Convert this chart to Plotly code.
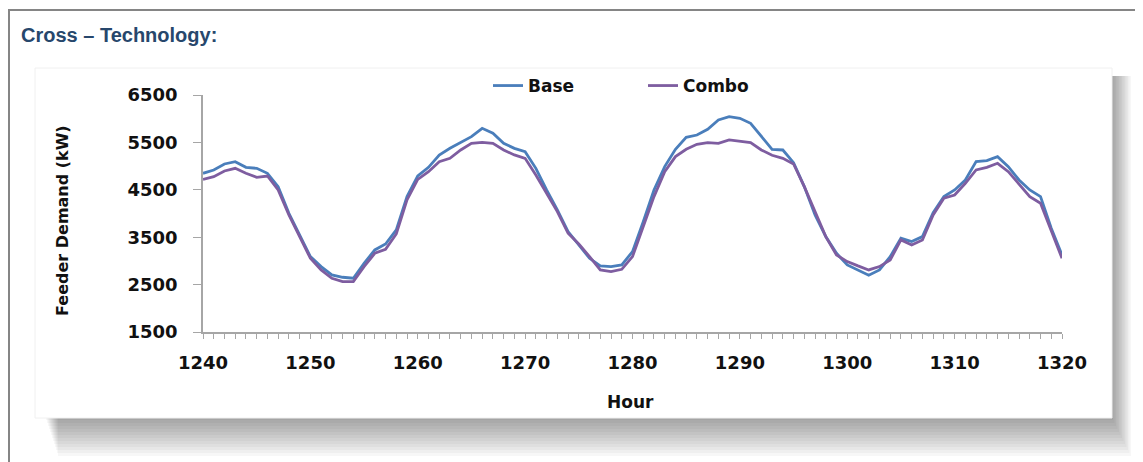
import plotly.graph_objects as go

# hourly feeder demand (kW)
hours = list(range(1240, 1321))

base_kw = [
    4848, 4918, 5045, 5094, 4975, 4953, 4848, 4567, 4004, 3547,
    3090, 2880, 2704, 2655, 2634, 2950, 3231, 3357, 3653, 4356,
    4792, 4974, 5235, 5375, 5502, 5621, 5797, 5692, 5481, 5375,
    5305, 4953, 4496, 4075, 3618, 3337, 3055, 2894, 2880, 2915,
    3196, 3829, 4496, 4989, 5354, 5607, 5656, 5776, 5973, 6043,
    6008, 5902, 5621, 5354, 5340, 5073, 4567, 3969, 3512, 3161,
    2915, 2809, 2697, 2809, 3090, 3477, 3407, 3512, 4018, 4356,
    4496, 4707, 5094, 5115, 5200, 4989, 4707, 4496, 4356, 3688,
    3126,
]

combo_kw = [
    4721, 4777, 4897, 4953, 4848, 4763, 4791, 4497, 3969, 3512,
    3055, 2809, 2634, 2563, 2563, 2880, 3161, 3245, 3569, 4286,
    4721, 4883, 5094, 5164, 5340, 5481, 5502, 5481, 5340, 5235,
    5164, 4813, 4426, 4040, 3583, 3357, 3090, 2809, 2774, 2823,
    3090, 3723, 4356, 4883, 5200, 5354, 5460, 5495, 5481, 5551,
    5516, 5495, 5340, 5228, 5164, 5045, 4567, 4040, 3512, 3126,
    2985, 2894, 2809, 2880, 3020, 3442, 3337, 3442, 3969, 4321,
    4391, 4637, 4918, 4974, 5059, 4883, 4616, 4356, 4215, 3653,
    3055,
]

# page body has an 8px margin, so the figure itself starts at (8, 8)
OFF = 8
W, H = 1143 - OFF, 462 - OFF
L, R, T, B = 203 - OFF, 81, 95 - OFF, 130
pw, ph = W - L - R, H - T - B


def px(x):
    return (x - OFF - L) / pw


def py(y):
    return (H - B - (y - OFF)) / ph


bold = dict(family="DejaVu Sans", weight="bold", color="#111111")

fig = go.Figure()
fig.add_trace(go.Scatter(x=hours, y=base_kw, name="Base", mode="lines",
                         line=dict(color="#4A7EBB", width=2.8)))
fig.add_trace(go.Scatter(x=hours, y=combo_kw, name="Combo", mode="lines",
                         line=dict(color="#7E5DA0", width=2.8)))

shapes = []
# soft drop shadow under the chart card
for k in range(1, 15):
    shapes.append(dict(type="rect", xref="paper", yref="paper", layer="below",
                       x0=px(44 + k), x1=px(1110 + 1.5 * k), y0=py(76), y1=py(414 + 3 * k),
                       fillcolor="rgba(0,0,0,0.03)", line=dict(width=0)))
shapes.append(dict(type="rect", xref="paper", yref="paper", layer="below",
                   x0=px(35), x1=px(1112), y0=py(68), y1=py(418),
                   fillcolor="white", line=dict(color="#f0f0f0", width=1)))
# page frame
shapes.append(dict(type="rect", xref="paper", yref="paper", layer="below",
                   x0=px(9), x1=px(1141), y0=py(10), y1=py(480),
                   fillcolor="rgba(0,0,0,0)", line=dict(color="#858585", width=2)))

annotations = [
    dict(text="Cross \u2013 Technology:", xref="paper", yref="paper",
         x=px(19), y=py(35), xanchor="left", yanchor="middle", showarrow=False,
         font=dict(family="Liberation Sans", size=20, weight="bold", color="#27476c")),
    dict(text="Feeder Demand (kW)", xref="paper", yref="paper",
         x=px(62), y=py(221), xanchor="center", yanchor="middle", textangle=-90,
         showarrow=False, font=dict(bold, size=16)),
    dict(text="Hour", xref="paper", yref="paper",
         x=px(630), y=py(402), xanchor="center", yanchor="middle",
         showarrow=False, font=dict(bold, size=17)),
]

fig.update_layout(
    width=W, height=H, autosize=False,
    margin=dict(l=L, r=R, t=T, b=B, autoexpand=False),
    paper_bgcolor="white", plot_bgcolor="rgba(0,0,0,0)",
    shapes=shapes, annotations=annotations,
    showlegend=True,
    legend=dict(orientation="h", x=px(488), y=py(86), xanchor="left", yanchor="middle",
                font=dict(bold, size=17), bgcolor="rgba(0,0,0,0)",
                entrywidth=110, entrywidthmode="pixels", itemwidth=30),
    xaxis=dict(range=[1240, 1320], tickmode="linear", tick0=1240, dtick=10,
               showgrid=False, zeroline=False, showline=True, linecolor="#a6a6a6",
               linewidth=1.5, ticks="outside", ticklen=5, tickcolor="#a6a6a6",
               tickfont=dict(bold, size=18), ticklabelstandoff=9,
               minor=dict(dtick=1, ticks="outside", ticklen=5, tickcolor="#a6a6a6",
                          showgrid=False)),
    yaxis=dict(range=[1500, 6500], tickmode="linear", tick0=1500, dtick=1000,
               showgrid=False, zeroline=False, showline=True, linecolor="#a6a6a6",
               linewidth=1.5, ticks="outside", ticklen=8, tickcolor="#a6a6a6",
               tickfont=dict(bold, size=18), ticklabelstandoff=12),
)

fig.write_html("out.html")
